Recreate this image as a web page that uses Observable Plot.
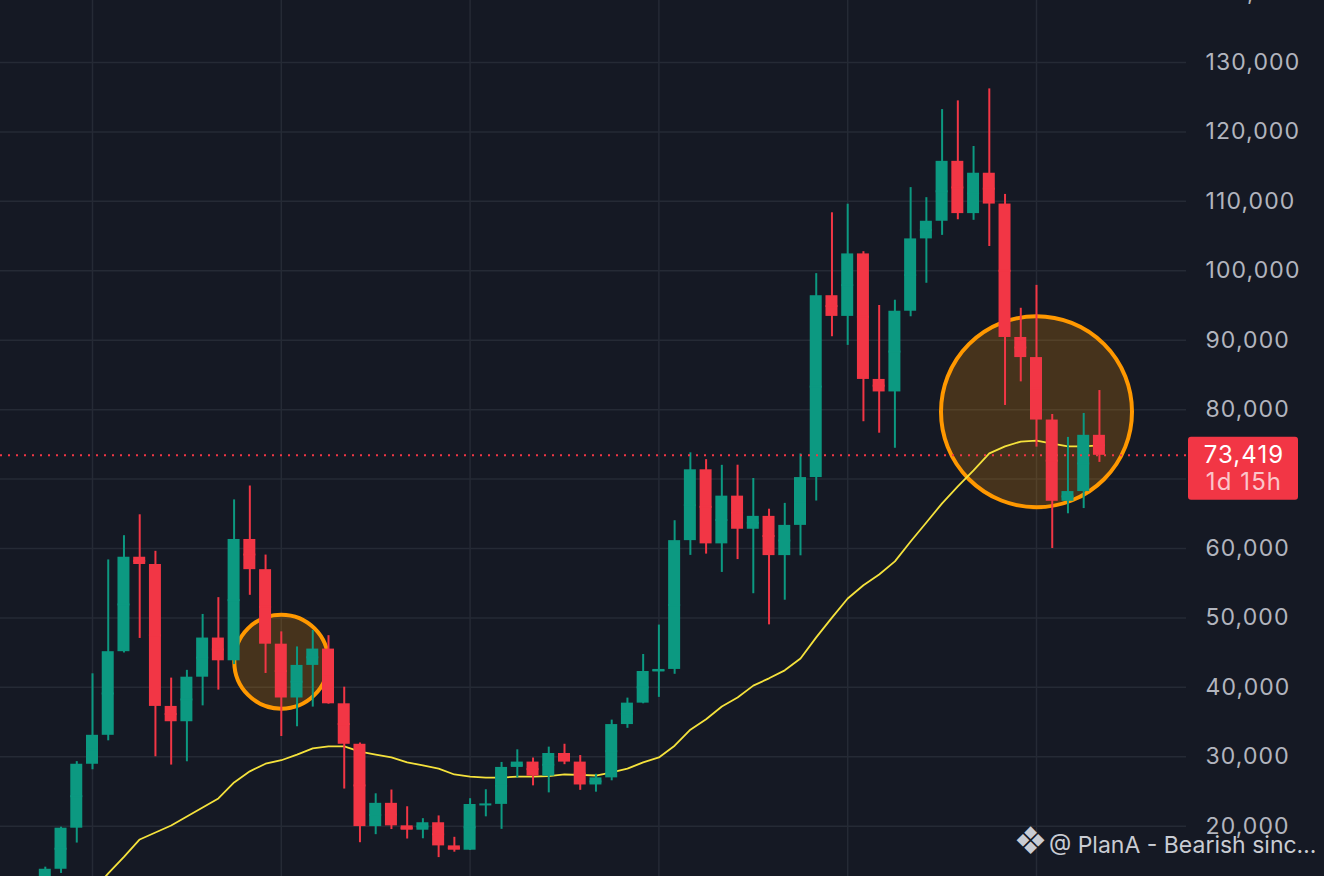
<!DOCTYPE html>
<html><head><meta charset="utf-8">
<script src="https://cdn.jsdelivr.net/npm/d3@7"></script>
<script src="https://cdn.jsdelivr.net/npm/@observablehq/plot@0.6"></script>
<style>
html,body{margin:0;padding:0;background:#151924;overflow:hidden;}
#chart svg{display:block;}
#chart svg text{letter-spacing:1.1px;}
</style></head><body><div id="chart"></div>
<script>
// ---- data (BTC/USDT monthly) ----
const months = ["2020-10","2020-11","2020-12",
 "2021-01","2021-02","2021-03","2021-04","2021-05","2021-06","2021-07","2021-08","2021-09","2021-10","2021-11","2021-12",
 "2022-01","2022-02","2022-03","2022-04","2022-05","2022-06","2022-07","2022-08","2022-09","2022-10","2022-11","2022-12",
 "2023-01","2023-02","2023-03","2023-04","2023-05","2023-06","2023-07","2023-08","2023-09","2023-10","2023-11","2023-12",
 "2024-01","2024-02","2024-03","2024-04","2024-05","2024-06","2024-07","2024-08","2024-09","2024-10","2024-11","2024-12",
 "2025-01","2025-02","2025-03","2025-04","2025-05","2025-06","2025-07","2025-08","2025-09","2025-10","2025-11","2025-12",
 "2026-01","2026-02","2026-03","2026-04","2026-05"];
const open = [10776,13797,19713,
 28923,33092,45135,58740,57694,37253,35045,41462,47100,43824,61299,56950,
 46217,38466,43160,45510,37630,31801,19942,23293,20050,19422,20496,17164,
 16542,23125,23141,28465,29233,27210,30472,29232,25940,26962,34639,37724,
 42284,42580,61130,71333,60665,67540,62772,64628,58974,63328,70215,96408,
 93429,102430,84350,82550,94172,104591,107135,115764,108236,114049,109608,90394,
 87500,78500,66800,68200,76300];
const high = [14100,19863,29300,
 41950,58352,61844,64854,59592,41330,42448,50500,52920,67000,69000,59053,
 47990,45821,48190,47444,40023,31982,24668,25211,22799,21085,21480,18400,
 23960,25250,29184,31000,29820,31390,31804,30177,27480,35280,38450,44729,
 48970,64000,73777,72797,71979,71997,70079,65660,66498,73620,99588,108353,
 109588,102750,95000,95758,111980,110530,123218,124474,117900,126200,111000,94600,
 97900,79300,76000,79450,82750];
const low = [10400,13195,17572,
 28130,32296,44950,47044,30000,28805,29278,37332,39600,43283,53256,42000,
 32917,34323,37155,37578,25350,17622,18781,19520,18153,18190,15476,16257,
 16500,21351,19549,26942,25811,24800,28861,25166,24901,26538,34097,37629,
 38555,41880,59005,59191,56552,58402,53485,49000,52550,58946,66835,90500,
 89256,78258,76606,74434,93377,98200,105100,107350,107270,103500,80600,84000,
 74600,60000,65000,65750,72400];
const close = [13797,19713,28923,
 33092,45135,58740,57694,37253,35045,41462,47100,43824,61299,56950,46217,
 38466,43160,45510,37630,31801,19942,23293,20050,19422,20496,17164,16542,
 23125,23141,28465,29233,27210,30472,29232,25940,26962,34639,37724,42284,
 42580,61130,71333,60665,67540,62772,64628,58974,63328,70215,96408,93429,
 102430,84350,82550,94172,104591,107135,115764,108236,114049,109608,90394,87500,
 78500,66800,68200,76300,73419];
// moving average (yellow line), months 2021-01 .. 2026-05
const maMonths = months.slice(3);
const maValues = [10700,13190,15570,18090,19100,20100,21400,22700,24000,26300,27900,29000,
 29500,30300,31200,31500,31500,30750,30300,29900,29200,28750,28300,27450,
 27150,27000,27000,27150,27150,27200,27450,27400,27300,27750,28300,29200,
 29900,31600,33900,35400,37250,38550,40250,41300,42450,44150,47200,50050,
 52800,54700,56250,58150,61000,63750,66500,68950,71250,73700,74700,75400,
 75550,75100,74700,74700,74850];
const priceTicks = [20000,30000,40000,50000,60000,70000,80000,90000,100000,110000,120000,130000,140000];
const yearStarts = ["2021-01","2022-01","2023-01","2024-01","2025-01","2026-01"];
const highlightMonths = ["2022-01","2026-01"];
const highlightPrices = [43700, 79700];
const lastPriceText = "73,419";
const countdownText = "1d 15h";
const watermarkText = "@ PlanA - Bearish sinc\u2026";
const watermarkLogo = "\u2756";

// ---- build ----
const base = months.indexOf("2021-01");
const idx = m => months.indexOf(m) - base;
const candles = months.map((m, j) => ({i: idx(m), open: open[j], high: high[j], low: low[j], close: close[j]}));
const ma = maMonths.map((m, j) => ({i: idx(m), v: maValues[j]}));
const hl = highlightMonths.map((m, j) => ({i: idx(m), p: highlightPrices[j]}));
const GREEN = "#0c9981", RED = "#f23645";
const col = d => d.close >= d.open ? GREEN : RED;
const half = 0.381;
const lastClose = close[close.length - 1];
const W = 1324, H = 876, MR = 138;
const yOpts = {type: "linear", domain: [20000, 130000], range: [825.7, 62]};
const yScale = Plot.scale({y: yOpts});
const pyLast = yScale.apply(lastClose);
const BOX_TOP = -18, BOX_BOTTOM = 45;
// tick labels hidden behind the last-price box are not drawn (as on the reference)
const visibleTicks = priceTicks.filter(t => {
  const p = yScale.apply(t);
  return p < pyLast + BOX_TOP - 6 || p > pyLast + BOX_BOTTOM + 6;
});

const chart = Plot.plot({
  width: W, height: H,
  marginLeft: 0, marginRight: MR, marginTop: 0, marginBottom: 0,
  style: {background: "#151924", fontFamily: "Inter, 'Noto Sans', sans-serif", overflow: "hidden"},
  x: {type: "linear", domain: [0, 60], range: [92, 1036], axis: null},
  y: {...yOpts, axis: null},
  marks: [
    Plot.ruleY(priceTicks, {stroke: "#252a35", strokeWidth: 1.5}),
    Plot.ruleX(yearStarts.map(idx), {stroke: "#252a35", strokeWidth: 1.5}),
    Plot.dot([hl[0]], {x: "i", y: "p", r: 47, fill: "#ff9800", fillOpacity: 0.21, stroke: "#ff9800", strokeWidth: 4}),
    Plot.dot([hl[1]], {x: "i", y: "p", r: 95.5, fill: "#ff9800", fillOpacity: 0.21, stroke: "#ff9800", strokeWidth: 4}),
    Plot.line(ma, {x: "i", y: "v", stroke: "#f5e23c", strokeWidth: 1.8}),
    Plot.ruleX(candles, {x: "i", y1: "low", y2: "high", stroke: col, strokeWidth: 2}),
    Plot.rect(candles, {x1: d => d.i - half, x2: d => d.i + half, y1: "open", y2: "close", fill: col}),
    Plot.ruleY(candles, {y: d => (d.open + d.close) / 2, x1: d => d.i - half, x2: d => d.i + half, stroke: col, strokeWidth: 2}),
    Plot.ruleY([lastClose], {stroke: RED, strokeWidth: 2, strokeDasharray: "2 6"}),
    Plot.text(visibleTicks, {y: d => d, text: d => d3.format(",")(d), frameAnchor: "right", textAnchor: "start", dx: 19, fill: "#b2b5be", fontSize: 23}),
    Plot.text([watermarkText], {text: d => d, frameAnchor: "bottom-right", textAnchor: "end", dx: 130, dy: -24, fill: "#c9ccd3", fontSize: 23}),
    Plot.text([watermarkLogo], {text: d => d, frameAnchor: "bottom-right", textAnchor: "middle", dx: -156, dy: -23, fill: "#c9ccd3", fontSize: 38, fontFamily: "DejaVu Sans"})
  ]
});
document.getElementById("chart").append(chart);

// the watermark keeps the font's natural spacing
d3.select(chart).selectAll("text").filter(function() { return this.textContent === watermarkText || this.textContent === watermarkLogo; })
  .style("letter-spacing", "0px");

// last-price label on the price scale, positioned with Plot's y scale
const py = chart.scale("y").apply(lastClose);
const svg = d3.select(chart);
const g = svg.append("g").attr("font-family", "Inter, 'Noto Sans', sans-serif").attr("font-size", 24).attr("text-anchor", "middle");
const bx = W - MR + 2;
g.append("rect").attr("x", bx).attr("y", py + BOX_TOP).attr("width", 110).attr("height", BOX_BOTTOM - BOX_TOP).attr("rx", 3).attr("fill", RED);
g.append("text").attr("x", bx + 56).attr("y", py + 8).attr("fill", "#ffffff").text(lastPriceText);
g.append("text").attr("x", bx + 56).attr("y", py + 35.5).attr("fill", "rgba(255,255,255,0.72)").text(countdownText);
</script></body></html>
